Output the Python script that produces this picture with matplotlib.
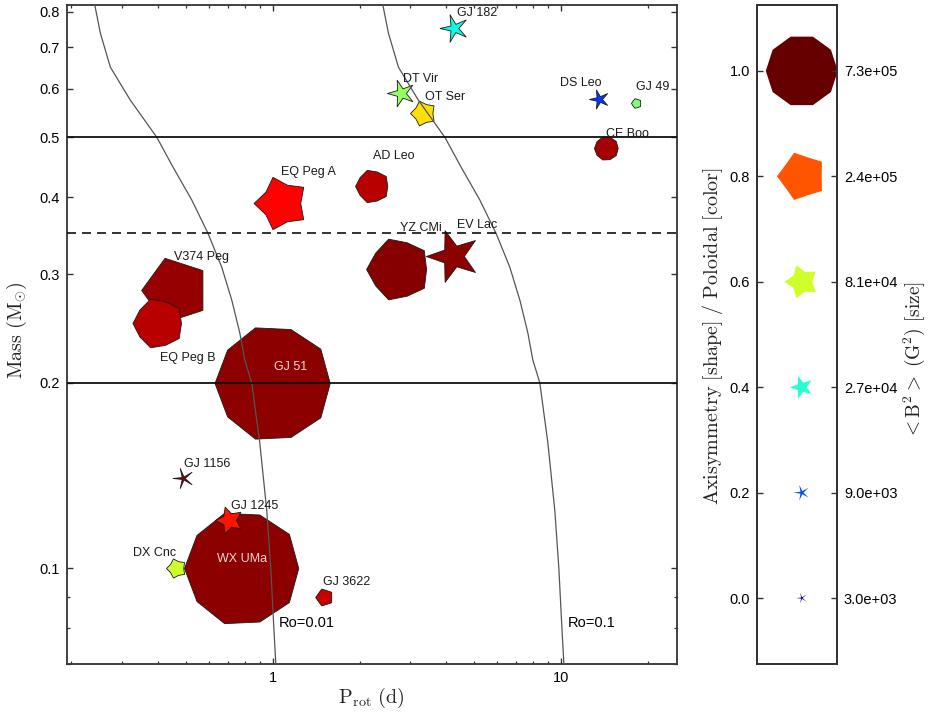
import numpy as np
import matplotlib
matplotlib.use("Agg")
import matplotlib.pyplot as plt
from matplotlib.path import Path
from matplotlib.colors import LinearSegmentedColormap
from matplotlib.ticker import FixedLocator, NullFormatter, FuncFormatter

plt.rcParams['font.family'] = ['Liberation Sans', 'DejaVu Sans']
plt.rcParams['mathtext.fontset'] = 'cm'

# ---------------- data ----------------
names = ["GJ 182", "DT Vir", "OT Ser", "DS Leo", "GJ 49", "CE Boo", "AD Leo",
         "EQ Peg A", "YZ CMi", "EV Lac", "V374 Peg", "EQ Peg B", "GJ 51",
         "GJ 1156", "GJ 1245", "WX UMa", "DX Cnc", "GJ 3622"]
prot = [4.25, 2.78, 3.32, 13.6, 18.2, 14.4, 2.21,
        1.066, 2.72, 4.22, 0.457, 0.399, 1.00,
        0.487, 0.703, 0.78, 0.463, 1.50]
mass = [0.752, 0.590, 0.547, 0.577, 0.568, 0.480, 0.417,
        0.391, 0.306, 0.321, 0.283, 0.250, 0.200,
        0.140, 0.120, 0.100, 0.100, 0.090]
# axisymmetric fraction -> shape, poloidal fraction -> colour, <B^2> -> size
axisym = [0.30, 0.35, 0.72, 0.30, 0.85, 0.97, 0.90,
          0.70, 0.88, 0.40, 0.81, 0.90, 0.97,
          0.15, 0.50, 0.97, 0.72, 0.82]
poloidal = [0.37, 0.53, 0.67, 0.18, 0.50, 0.95, 0.938,
            0.878, 0.975, 0.972, 0.963, 0.938, 0.972,
            0.97, 0.86, 0.97, 0.60, 0.927]
b2 = [2.4e4, 2.2e4, 1.76e4, 8.0e3, 1.0e3, 1.4e4, 3.9e4,
      1.66e5, 2.6e5, 1.6e5, 3.1e5, 1.33e5, 1.6e6,
      9.3e3, 2.2e4, 1.56e6, 8.0e3, 5.5e3]

# convective turnover time along the Rossby curves
ro_mass = [0.820, 0.738, 0.650, 0.575, 0.500, 0.448, 0.396, 0.350, 0.308,
           0.272, 0.241, 0.218, 0.200, 0.160, 0.124, 0.100, 0.0803, 0.0702]
tau_c = [24.1, 25.2, 27.3, 32.0, 39.6, 45.0, 52.3, 59.5, 66.5,
         72.1, 76.8, 79.9, 84.5, 90.1, 95.3, 98.4, 100.8, 102.4]
rossby = [0.01, 0.1]

# legend
leg_vals = [1.0, 0.8, 0.6, 0.4, 0.2, 0.0]
leg_b2 = [7.3e5, 2.4e5, 8.1e4, 2.7e4, 9.0e3, 3.0e3]

# label offsets in pixels (dx, dy, ha)
lab_off = {
    "GJ 182": (3, 15, "left"), "DT Vir": (2, 14, "left"), "OT Ser": (2, 16, "left"),
    "DS Leo": (2, 16, "right"), "GJ 49": (0, 16, "left"), "CE Boo": (0, 14, "left"),
    "AD Leo": (1, 30, "left"), "EQ Peg A": (0, 31, "left"), "YZ CMi": (2, 41, "left"),
    "EV Lac": (4, 31, "left"), "V374 Peg": (-1, 33, "left"), "EQ Peg B": (2, -35, "left"),
    "GJ 51": (18, 16, "center"), "GJ 1156": (1, 14, "left"), "GJ 1245": (2, 14, "left"),
    "WX UMa": (0, 9, "center"), "DX Cnc": (0, 15, "right"), "GJ 3622": (-1, 15, "left"),
}
light_labels = ["GJ 51", "WX UMa"]

# jet with a darker red end
cmap = LinearSegmentedColormap("jetdark", {
    'red': ((0., 0, 0), (0.35, 0, 0), (0.66, 1, 1), (0.89, 1, 1), (1, 0.4, 0.4)),
    'green': ((0., 0, 0), (0.125, 0, 0), (0.375, 1, 1), (0.64, 1, 1), (0.88, 0, 0), (1, 0, 0)),
    'blue': ((0., 0.5, 0.5), (0.11, 1, 1), (0.34, 1, 1), (0.65, 0, 0), (1, 0, 0)),
})


def star_path(a, amin=0.04):
    # 5-branch star, inner radius a: a=1 decagon, a~0.8 pentagon, a->0 thin star
    ang = np.pi + np.arange(10) * np.pi / 5
    r = np.where(np.arange(10) % 2 == 0, 1.0, max(a, amin))
    v = np.column_stack([r * np.cos(ang), r * np.sin(ang)])
    v = np.vstack([v, v[:1]])
    return Path(v, closed=True)


PX = 72 / 100  # points per pixel
frame = '#333333'

fig = plt.figure(figsize=(9.3, 7.16), dpi=100)

# ================ main panel ================
ax = fig.add_axes([67 / 930, 52 / 716, 610 / 930, 659 / 716])
ax.set_xscale('log')
ax.set_yscale('log')
ax.set_xlim(0.193, 25.3)
ax.set_ylim(0.070, 0.820)

order = np.argsort(b2)[::-1]
for i in order:
    d = b2[i] ** (1 / 3) * PX
    ax.scatter(prot[i], mass[i], s=d ** 2, marker=star_path(axisym[i]),
               c=[cmap(poloidal[i])], edgecolors='#1a1a1a', linewidths=0.6, zorder=2)

for i, n in enumerate(names):
    dx, dy, ha = lab_off[n]
    col = '#f4d8d8' if n in light_labels else '#1a1a1a'
    ax.annotate(n, (prot[i], mass[i]), xytext=(dx * PX, dy * PX),
                textcoords='offset points', ha=ha, va='center',
                fontsize=9, color=col, zorder=5)

for ro in rossby:
    ax.plot(np.array(tau_c) * ro, ro_mass, color='#555555', lw=0.9, zorder=3)
ax.text(1.049, 0.0815, "Ro=0.01", fontsize=10.5, va='center', zorder=5)
ax.text(10.57, 0.0815, "Ro=0.1", fontsize=10.5, va='center', zorder=5)

ax.axhline(0.5, color='#111111', lw=1.3, zorder=3)
ax.axhline(0.2, color='#111111', lw=1.3, zorder=3)
ax.axhline(0.35, color='#111111', lw=1.2, ls=(0, (5.4, 3.6)), zorder=3)

ax.yaxis.set_major_locator(FixedLocator([0.1, 0.2, 0.3, 0.4, 0.5, 0.6, 0.7, 0.8]))
ax.yaxis.set_major_formatter(FuncFormatter(lambda v, p: f"{v:.1f}"))
ax.yaxis.set_minor_locator(FixedLocator([0.07, 0.08, 0.09]))
ax.yaxis.set_minor_formatter(NullFormatter())
ax.xaxis.set_major_locator(FixedLocator([1, 10]))
ax.xaxis.set_major_formatter(FuncFormatter(lambda v, p: f"{v:g}"))
ax.xaxis.set_minor_locator(FixedLocator([0.2, 0.3, 0.4, 0.5, 0.6, 0.7, 0.8, 0.9,
                                         2, 3, 4, 5, 6, 7, 8, 9, 20]))
ax.xaxis.set_minor_formatter(NullFormatter())
ax.tick_params(which='both', direction='in', top=True, right=True,
               color=frame, labelsize=10.5, pad=5)
ax.tick_params(which='major', length=4, width=1)
ax.tick_params(which='minor', length=2.5, width=0.9)
for s in ax.spines.values():
    s.set_linewidth(1.3)
    s.set_color(frame)

fig.text(17 / 930, 1 - 330 / 716, r"$\mathrm{Mass\ (M_{\odot})}$", rotation=90,
         ha='center', va='center', fontsize=14.5, color='#222222')
fig.text(371 / 930, 1 - 698 / 716, r"$\mathrm{P_{rot}\ (d)}$",
         ha='center', va='center', fontsize=14.5, color='#222222')

# ================ legend panel ================
axl = fig.add_axes([757 / 930, 52 / 716, 80 / 930, 659 / 716])
axl.set_xlim(0, 1)
axl.set_ylim(-0.125, 1.125)
axl.set_xticks([])
for v, b in zip(leg_vals, leg_b2):
    d = 0.8 * b ** (1 / 3) * PX
    axl.scatter(0.56, v, s=d ** 2, marker=star_path(v, amin=0.14), c=[cmap(v)],
                edgecolors='none', clip_on=False, zorder=2)
axl.set_yticks(leg_vals)
axl.set_yticklabels([f"{v:.1f}" for v in leg_vals])
axr = axl.twinx()
axr.set_ylim(-0.125, 1.125)
axr.set_yticks(leg_vals)
axr.set_yticklabels([f"{b:.1e}" for b in leg_b2])
for a_ in (axl, axr):
    a_.tick_params(direction='in', length=4, width=1, color=frame,
                   labelsize=10.5, pad=5)
    for s in a_.spines.values():
        s.set_linewidth(1.3)
        s.set_color(frame)

fig.text(712 / 930, 1 - 336 / 716,
         r"$\mathrm{Axisymmetry\ [shape]\ /\ Poloidal\ [color]}$",
         rotation=90, ha='center', va='center', fontsize=14.5, color='#222222')
fig.text(914 / 930, 1 - 360 / 716,
         r"$<\mathrm{B}^2>\ (\mathrm{G}^2)\ [\mathrm{size}]$",
         rotation=90, ha='center', va='center', fontsize=14, color='#222222')

fig.savefig("out.png", dpi=100)
